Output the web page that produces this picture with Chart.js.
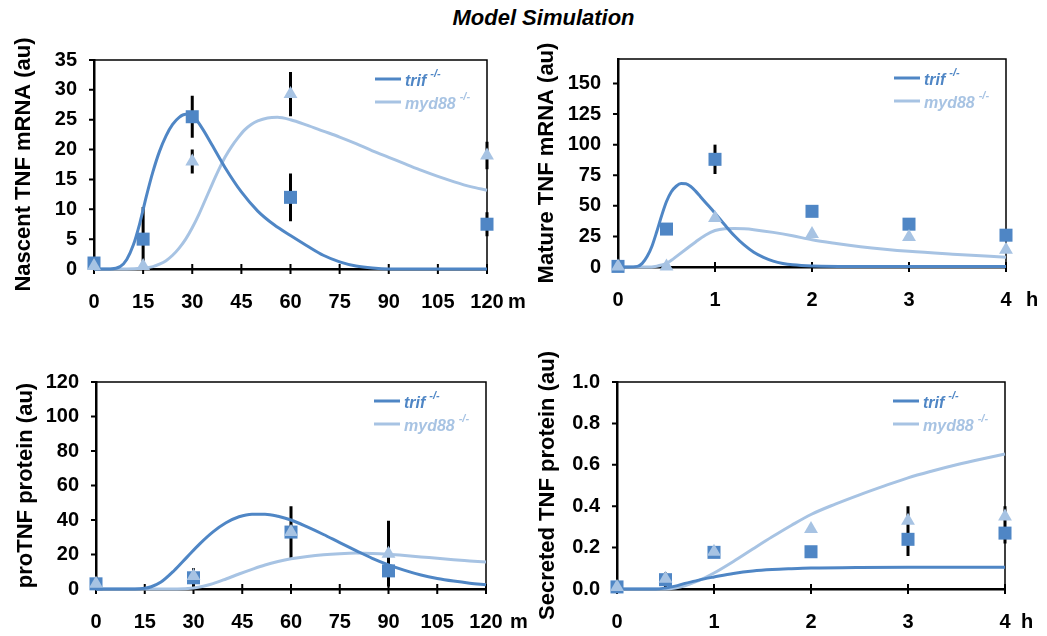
<!DOCTYPE html>
<html>
<head>
<meta charset="utf-8">
<script src="https://cdn.jsdelivr.net/npm/chart.js@4/dist/chart.umd.min.js"></script>
<style>
  body { margin:0; background:#fff; width:1047px; height:636px; position:relative; overflow:hidden; }
  canvas { position:absolute; }
  #title { position:absolute; left:40px; width:1007px; top:5px; line-height:26px; text-align:center;
    font:italic bold 22px "Liberation Sans", Arial, sans-serif; color:#000; }
</style>
</head>
<body>
<div id="title">Model Simulation</div>
<canvas id="c1" width="530" height="310" style="left:0;top:30px"></canvas>
<canvas id="c2" width="524" height="310" style="left:523px;top:30px"></canvas>
<canvas id="c3" width="530" height="296" style="left:0;top:340px"></canvas>
<canvas id="c4" width="524" height="296" style="left:523px;top:340px"></canvas>
<script>
const DARK = '#4f86c5';
const LIGHT = '#a7c3e3';
const FONT = '"Liberation Sans", Arial, sans-serif';

// ---- Nascent TNF mRNA (minutes)
const nascentXTicks = [0, 15, 30, 45, 60, 75, 90, 105, 120];
const nascentYTicks = [0, 5, 10, 15, 20, 25, 30, 35];
const nascentTrifT = [0,5,8,10,12,14,16,18,20,22,24,26,28,30,33,36,40,45,50,55,60,65,70,75,80,85,90,100,110,120];
const nascentTrifY = [0,0,0.4,1.6,4,7.7,12.2,16.3,19.7,22.3,24.2,25.4,25.9,25.7,23.6,20.8,17,12.9,9.7,7.4,5.6,3.9,2.3,1.2,0.5,0.15,0,0,0,0];
const nascentMydT = [0,10,15,18,20,22,24,26,28,30,32,34,36,38,40,42,44,46,48,50,53,56,60,65,70,75,80,85,90,95,100,105,110,115,120];
const nascentMydY = [0,0,0.15,0.4,0.8,1.4,2.3,3.5,5,6.9,9.1,11.6,14.1,16.5,18.7,20.5,22,23.3,24.2,24.8,25.3,25.4,25,24.1,23.1,22.1,21,19.8,18.7,17.6,16.5,15.5,14.6,13.8,13.2];
const nascentObsT = [0, 15, 30, 60, 120];
const nascentTrifObs = [1, 5, 25.5, 12, 7.5];
const nascentTrifErr = [0, 5.4, 3.5, 4, 2];
const nascentMydObs = [0.5, 0.5, 18, 29.3, 19];
const nascentMydErr = [0, 0, 2, 3.7, 2.3];

// ---- Mature TNF mRNA (hours)
const matureXTicks = [0, 1, 2, 3, 4];
const matureYTicks = [0, 25, 50, 75, 100, 125, 150];
const matureTrifT = [0,0.1,0.2,0.25,0.3,0.35,0.4,0.45,0.5,0.55,0.6,0.65,0.7,0.75,0.8,0.85,0.9,1.0,1.1,1.2,1.3,1.4,1.5,1.6,1.7,1.8,2.0,2.5,3,3.5,4];
const matureTrifY = [0,0,0.5,3,8.5,17,29,42,53.5,61.5,66,68.2,68,65.8,62,57.5,53,44,34.5,25.5,18,12,7.8,4.8,2.9,1.8,0.9,0.5,0.5,0.5,0.5];
const matureMydT = [0,0.3,0.4,0.45,0.5,0.55,0.6,0.7,0.8,0.9,1.0,1.1,1.2,1.3,1.4,1.6,1.8,2.0,2.25,2.5,2.75,3,3.5,4];
const matureMydY = [0,0,0.7,1.6,3,5.5,8.5,14.5,20.5,26,29.8,31.3,31.5,31.2,30.5,28.3,25.5,22.2,19.2,16.6,14.5,12.8,10.3,8];
const matureObsT = [0, 0.5, 1, 2, 3, 4];
const matureTrifObs = [0.5, 31, 88, 45.5, 35, 26];
const matureTrifErr = [0, 0, 12, 0, 0, 0];
const matureMydObs = [0.5, 0.5, 40, 27, 24.5, 14];
const matureMydErr = [0, 0, 0, 0, 0, 0];

// ---- proTNF protein (minutes)
const proXTicks = [0, 15, 30, 45, 60, 75, 90, 105, 120];
const proYTicks = [0, 20, 40, 60, 80, 100, 120];
const proTrifT = [0,12,15,17,20,24,28,32,36,40,44,48,52,56,60,65,70,75,80,85,90,95,100,105,110,115,120];
const proTrifY = [0,0,0.4,1.3,4,10.6,18.5,26.3,33.1,38.4,41.9,43.4,43.4,42.2,40,36,31.6,26.9,22.3,17.8,14,10.8,8.1,6.1,4.6,3.4,2.5];
const proMydT = [0,25,30,33,36,40,44,48,52,56,60,65,70,75,80,85,90,95,100,105,110,115,120];
const proMydY = [0,0,0.6,1.6,3.1,5.8,8.7,11.4,13.9,15.9,17.5,18.9,19.9,20.5,20.8,20.6,20.1,19.4,18.6,17.8,17,16.3,15.6];
const proObsT = [0, 30, 60, 90];
const proTrifObs = [3, 6.5, 33, 10.5];
const proTrifErr = [0, 5.5, 15, 6];
const proMydObs = [3, 7.5, 33, 20.5];
const proMydErr = [0, 0, 10, 19];

// ---- Secreted TNF protein (hours)
const secXTicks = [0, 1, 2, 3, 4];
const secYTicks = [0, 0.2, 0.4, 0.6, 0.8, 1.0];
const secTrifT = [0,0.4,0.5,0.6,0.7,0.8,0.9,1.0,1.2,1.4,1.6,1.8,2.0,2.5,3,3.5,4];
const secTrifY = [0,0,0.005,0.014,0.027,0.038,0.049,0.058,0.075,0.087,0.094,0.098,0.101,0.104,0.105,0.105,0.105];
const secMydT = [0,0.5,0.6,0.7,0.8,0.9,1.0,1.2,1.4,1.6,1.8,2.0,2.25,2.5,2.75,3,3.25,3.5,3.75,4];
const secMydY = [0,0,0.005,0.016,0.033,0.053,0.077,0.133,0.193,0.252,0.308,0.36,0.41,0.455,0.497,0.537,0.57,0.6,0.627,0.652];
const secObsT = [0, 0.5, 1, 2, 3, 4];
const secTrifObs = [0.01, 0.045, 0.177, 0.18, 0.24, 0.27];
const secTrifErr = [0, 0.035, 0, 0, 0.08, 0.05];
const secMydObs = [0.01, 0.05, 0.18, 0.29, 0.33, 0.35];
const secMydErr = [0, 0, 0, 0, 0.07, 0.05];

const pts = (xs, ys) => xs.map((x, i) => ({x, y: ys[i]}));

function makePanel(id, p) {
  const ctxEl = document.getElementById(id);
  const chartPlugin = {
    id: 'panelDeco',
    beforeDatasetsDraw(chart) {
      const {ctx, chartArea: a, scales: {x, y}} = chart;
      ctx.save();
      ctx.strokeStyle = '#000';
      // top and right frame
      ctx.lineWidth = 1.5;
      ctx.beginPath();
      ctx.moveTo(a.left, a.top); ctx.lineTo(a.right, a.top); ctx.lineTo(a.right, a.bottom);
      ctx.stroke();
      // tick marks
      ctx.lineWidth = 2;
      ctx.beginPath();
      x.ticks.forEach(t => { const px = x.getPixelForValue(t.value); ctx.moveTo(px, a.bottom - 5); ctx.lineTo(px, a.bottom + 5); });
      y.ticks.forEach(t => { const py = y.getPixelForValue(t.value); ctx.moveTo(a.left - 5, py); ctx.lineTo(a.left, py); });
      ctx.stroke();
      // error bars
      ctx.lineWidth = 3;
      ctx.beginPath();
      [[p.trifObs, p.trifErr], [p.mydObs, p.mydErr]].forEach(([vals, errs]) => {
        vals.forEach((v, i) => {
          if (!errs[i]) return;
          const px = x.getPixelForValue(p.obsT[i]);
          ctx.moveTo(px, y.getPixelForValue(Math.max(v - errs[i], 0)));
          ctx.lineTo(px, y.getPixelForValue(v + errs[i]));
        });
      });
      ctx.stroke();
      ctx.restore();
    },
    afterDraw(chart) {
      const {ctx, chartArea: a} = chart;
      ctx.save();
      // legend
      [['trif', DARK, 19], ['myd88', LIGHT, 42]].forEach(([name, col, dy]) => {
        ctx.strokeStyle = col; ctx.lineWidth = 3;
        ctx.beginPath(); ctx.moveTo(a.right - 112, a.top + dy); ctx.lineTo(a.right - 86, a.top + dy); ctx.stroke();
        ctx.fillStyle = col;
        ctx.textBaseline = 'alphabetic'; ctx.textAlign = 'left';
        ctx.font = `italic bold 16px ${FONT}`;
        ctx.fillText(name, a.right - 82, a.top + dy + 6.5);
        const w = ctx.measureText(name).width;
        ctx.font = `italic bold 11px ${FONT}`;
        ctx.fillText('-/-', a.right - 82 + w + 4, a.top + dy - 2);
      });
      // unit label next to the last x tick
      ctx.fillStyle = '#000';
      ctx.font = `bold 20px ${FONT}`;
      ctx.textBaseline = 'middle';
      ctx.fillText(p.unit, a.right + p.unitDx, a.bottom + 33);
      ctx.restore();
    }
  };

  return new Chart(ctxEl, {
    type: 'scatter',
    data: {
      datasets: [
        {data: pts(p.trifT, p.trifY), showLine: true, borderColor: DARK, borderWidth: 3, pointRadius: 0,
          cubicInterpolationMode: 'monotone', order: 2, clip: false},
        {data: pts(p.mydT, p.mydY), showLine: true, borderColor: LIGHT, borderWidth: 3, pointRadius: 0,
          cubicInterpolationMode: 'monotone', order: 3, clip: false},
        {data: pts(p.obsT, p.trifObs), pointStyle: 'rect', pointRadius: 9.2, backgroundColor: DARK,
          borderColor: DARK, borderWidth: 0, order: 1, clip: false},
        {data: pts(p.obsT, p.mydObs), pointStyle: 'triangle', pointRadius: 8, backgroundColor: LIGHT,
          borderColor: LIGHT, borderWidth: 0, order: 0, clip: false}
      ]
    },
    options: {
      responsive: false, animation: false, devicePixelRatio: 1,
      layout: {padding: {top: p.padTop, right: p.padRight, left: 0, bottom: 0}},
      plugins: {legend: {display: false}, tooltip: {enabled: false}},
      scales: {
        x: {
          type: 'linear', min: p.xTicks[0], max: p.xTicks[p.xTicks.length - 1],
          afterBuildTicks: s => { s.ticks = p.xTicks.map(v => ({value: v})); },
          afterFit: s => { s.height = p.xH; },
          grid: {display: false, drawTicks: false},
          border: {display: true, color: '#000', width: 2.5},
          ticks: {color: '#000', padding: 21, font: {size: 20, weight: 'bold', family: FONT}, maxRotation: 0,
            callback: v => String(v)}
        },
        y: {
          type: 'linear', min: 0, max: p.yMax,
          afterBuildTicks: s => { s.ticks = p.yTicks.map(v => ({value: v})); },
          afterFit: s => { s.width = p.yW; },
          grid: {display: false, drawTicks: false},
          border: {display: true, color: '#000', width: 2.5},
          ticks: {color: '#000', padding: 17, font: {size: 20, weight: 'bold', family: FONT},
            callback: v => p.fmt ? p.fmt(v) : String(v)},
          title: {display: true, text: p.yTitle, color: '#000', padding: {top: p.titlePad, bottom: 0},
            font: {size: 22, weight: 'bold', family: FONT}}
        }
      }
    },
    plugins: [chartPlugin]
  });
}

makePanel('c1', {
  xTicks: nascentXTicks, yTicks: nascentYTicks, yMax: 35, yTitle: 'Nascent TNF mRNA (au)',
  trifT: nascentTrifT, trifY: nascentTrifY, mydT: nascentMydT, mydY: nascentMydY,
  obsT: nascentObsT, trifObs: nascentTrifObs, trifErr: nascentTrifErr, mydObs: nascentMydObs, mydErr: nascentMydErr,
  padTop: 30, padRight: 43, yW: 94, xH: 71, titlePad: 10.8, unit: 'm', unitDx: 21
});
makePanel('c2', {
  xTicks: matureXTicks, yTicks: matureYTicks, yMax: 170, yTitle: 'Mature TNF mRNA (au)',
  trifT: matureTrifT, trifY: matureTrifY, mydT: matureMydT, mydY: matureMydY,
  obsT: matureObsT, trifObs: matureTrifObs, trifErr: matureTrifErr, mydObs: matureMydObs, mydErr: matureMydErr,
  padTop: 29, padRight: 41, yW: 95, xH: 73, titlePad: 10.8, unit: 'h', unitDx: 20
});
makePanel('c3', {
  xTicks: proXTicks, yTicks: proYTicks, yMax: 120, yTitle: 'proTNF protein (au)',
  trifT: proTrifT, trifY: proTrifY, mydT: proMydT, mydY: proMydY,
  obsT: proObsT, trifObs: proTrifObs, trifErr: proTrifErr, mydObs: proMydObs, mydErr: proMydErr,
  padTop: 42, padRight: 44, yW: 96, xH: 47, titlePad: 12.8, unit: 'm', unitDx: 24
});
makePanel('c4', {
  xTicks: secXTicks, yTicks: secYTicks, yMax: 1.0, yTitle: 'Secreted TNF protein (au)',
  trifT: secTrifT, trifY: secTrifY, mydT: secMydT, mydY: secMydY,
  obsT: secObsT, trifObs: secTrifObs, trifErr: secTrifErr, mydObs: secMydObs, mydErr: secMydErr,
  padTop: 42, padRight: 42, yW: 94, xH: 47, titlePad: 11.8, unit: 'h', unitDx: 16,
  fmt: v => v.toFixed(1)
});
</script>
</body>
</html>
